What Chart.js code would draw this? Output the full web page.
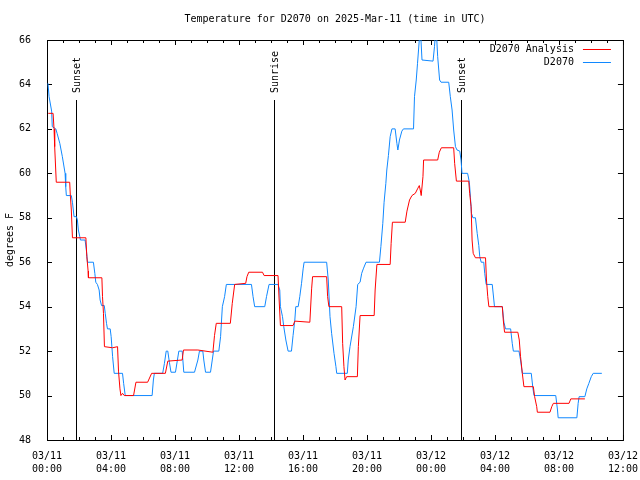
<!DOCTYPE html>
<html>
<head>
<meta charset="utf-8">
<script src="https://cdn.jsdelivr.net/npm/chart.js@4.4.0/dist/chart.umd.min.js"></script>
<style>
  body { margin: 0; background: #fff; }
  canvas { display: block; }
</style>
</head>
<body>
<canvas id="myChart" width="640" height="480"></canvas>
<script>
// hours since 03/11 00:00 UTC
var analysisHours = [0.08,0.38,0.44,0.48,0.58,1.42,1.46,1.52,1.59,2.43,
  2.49,2.57,2.59,3.43,3.47,3.53,3.59,4.10,4.41,4.47,
  4.56,4.62,4.72,4.83,5.41,5.56,6.29,6.54,7.40,7.55,
  8.45,8.53,9.43,10.37,10.47,10.58,11.46,11.58,11.73,12.42,
  12.50,12.61,13.47,13.57,14.44,14.51,14.59,15.38,15.49,16.43,
  16.54,16.60,17.48,17.54,17.62,18.42,18.48,18.56,18.63,18.73,
  19.40,19.46,19.57,20.45,20.51,20.62,21.45,21.51,21.59,22.39,
  22.50,22.66,22.81,23.02,23.16,23.27,23.33,23.39,23.50,23.54,
  24.42,24.52,24.65,25.42,25.48,25.59,26.36,26.42,26.51,26.57,
  26.64,26.78,27.41,27.47,27.55,27.62,28.46,28.52,28.60,29.43,
  29.52,29.60,29.71,29.81,30.40,30.48,30.61,30.65,31.44,31.55,
  31.65,32.63,32.74,33.62];
var analysisTemps = [62.7,62.7,62.0,61.2,59.6,59.6,59.0,58.35,57.1,57.1,
  56.25,55.6,55.3,55.3,54.45,53.7,52.2,52.15,52.2,51.1,
  50.3,50.0,50.1,50.0,50.0,50.6,50.6,51.0,51.0,51.55,
  51.6,52.05,52.05,51.95,52.7,53.25,53.25,54.15,55.0,55.05,
  55.35,55.55,55.55,55.4,55.4,54.3,53.15,53.15,53.35,53.3,
  54.8,55.35,55.35,54.45,54.0,54.0,52.35,51.3,50.7,50.85,
  50.85,52.2,53.6,53.6,54.75,55.9,55.9,56.85,57.8,57.8,
  58.3,58.8,59.0,59.1,59.3,59.45,59.25,59.0,59.85,60.6,
  60.6,60.95,61.15,61.15,60.45,59.65,59.65,59.1,58.5,57.0,
  56.4,56.2,56.2,55.2,54.45,54.0,54.0,53.4,52.85,52.85,
  52.5,51.75,51.0,50.4,50.4,49.95,49.5,49.25,49.25,49.5,
  49.65,49.65,49.85,49.85];

var obsHours = [0.06,0.13,0.29,0.33,0.55,0.63,0.80,0.96,1.13,1.17,
  1.21,1.52,1.59,1.69,1.84,1.90,1.96,2.05,2.09,2.38,
  2.46,2.53,2.90,2.99,3.05,3.15,3.26,3.32,3.41,3.58,
  3.64,3.72,3.78,3.95,4.01,4.10,4.20,4.72,4.79,4.89,
  6.57,6.65,6.71,7.23,7.34,7.45,7.55,7.65,7.75,8.03,
  8.24,8.45,8.55,9.22,9.43,9.53,9.74,9.80,9.91,10.22,
  10.33,10.41,10.74,10.85,10.96,11.10,11.21,12.78,12.88,12.98,
  13.61,13.72,13.88,14.44,14.55,14.59,14.72,14.80,14.93,15.07,
  15.28,15.38,15.49,15.55,15.70,15.80,15.91,16.01,16.07,17.48,
  17.58,17.69,17.79,17.94,18.06,18.11,18.77,18.83,18.94,19.15,
  19.32,19.42,19.57,19.67,19.77,19.94,20.78,20.87,20.99,21.07,
  21.18,21.24,21.34,21.45,21.56,21.76,21.87,21.93,22.03,22.18,
  22.28,22.91,22.97,23.08,23.16,23.29,23.36,23.44,24.13,24.22,
  24.27,24.35,24.42,24.54,24.63,25.11,25.21,25.32,25.42,25.53,
  25.63,25.80,25.88,25.94,26.29,26.40,26.47,26.53,26.62,26.78,
  26.89,26.99,27.05,27.14,27.30,27.36,27.45,27.83,27.93,27.97,
  28.46,28.56,28.66,28.98,29.08,29.15,29.50,29.60,29.71,30.27,
  30.36,30.44,31.80,31.91,31.95,33.12,33.20,33.26,33.62,33.74,
  33.87,34.02,34.14,34.68];
var obsTemps = [64.05,63.45,62.8,62.1,62.0,61.8,61.35,60.75,60.0,59.4,
  59.0,59.0,58.7,58.05,58.05,57.9,57.45,57.15,57.0,57.0,
  56.55,56.0,56.0,55.5,55.1,55.0,54.75,54.3,54.05,54.05,
  53.7,53.25,53.0,53.0,52.65,51.75,51.0,51.0,50.55,50.0,
  50.0,50.7,51.0,51.0,51.45,52.0,52.0,51.5,51.05,51.05,
  52.0,52.0,51.05,51.05,51.6,52.0,52.0,51.6,51.05,51.05,
  51.6,52.0,52.0,52.65,54.0,54.45,55.0,55.0,54.45,54.0,
  54.0,54.45,55.0,55.0,54.75,54.0,53.55,53.1,52.5,52.0,
  52.0,52.7,53.4,54.0,54.0,54.45,55.05,55.7,56.0,56.0,
  55.2,53.55,52.8,51.9,51.3,51.0,51.0,51.6,52.2,53.1,
  54.0,55.0,55.1,55.5,55.7,56.0,56.0,56.7,57.75,58.7,
  59.55,60.15,60.8,61.65,62.0,62.0,61.35,61.05,61.5,61.9,
  62.0,62.0,63.45,64.2,64.95,66.2,66.2,65.1,65.05,65.7,
  66.2,66.2,65.25,64.2,64.1,64.1,63.45,62.85,61.95,61.2,
  61.05,61.0,60.6,60.0,60.0,59.6,58.9,58.2,58.0,58.0,
  57.3,56.75,56.25,56.0,56.0,55.5,55.0,55.0,54.3,54.0,
  54.0,53.3,53.0,53.0,52.35,52.0,52.0,51.6,51.0,51.0,
  50.4,50.0,50.0,49.35,49.0,49.0,49.65,49.95,49.95,50.3,
  50.55,50.85,51.0,51.0];

var sunHours = [1.83, 14.18, 25.85];
var sunLabels = ['Sunset', 'Sunrise', 'Sunset'];

var tickDates = ['03/11','03/11','03/11','03/11','03/11','03/11','03/12','03/12','03/12','03/12'];
var tickTimes = ['00:00','04:00','08:00','12:00','16:00','20:00','00:00','04:00','08:00','12:00'];

var seriesNames = ['D2070 Analysis', 'D2070'];
var seriesColors = ['#ff0000', '#1088ff'];

var FONT = 'DejaVu Sans Mono';

function toPoints(xs, ys) {
  var pts = [];
  for (var i = 0; i < xs.length; i++) pts.push({x: xs[i], y: ys[i]});
  return pts;
}

// gnuplot-ish frame, inward ticks, sun lines and legend
var decorations = {
  id: 'decorations',
  beforeDatasetsDraw: function(chart) {
    var ctx = chart.ctx, a = chart.chartArea;
    var xs = chart.scales.x, ys = chart.scales.y;
    ctx.save();
    ctx.strokeStyle = '#000';
    ctx.lineWidth = 1;
    ctx.strokeRect(a.left + 0.5, a.top + 0.5, a.right - a.left, a.bottom - a.top);

    ctx.beginPath();
    for (var h = 0; h <= 36; h++) {
      var px = Math.round(xs.getPixelForValue(h)) + 0.5;
      var len = (h % 4 === 0) ? 5 : 3;
      ctx.moveTo(px, a.bottom); ctx.lineTo(px, a.bottom - len);
      ctx.moveTo(px, a.top); ctx.lineTo(px, a.top + len);
    }
    for (var v = 48; v <= 66; v += 2) {
      var py = Math.round(ys.getPixelForValue(v)) + 0.5;
      ctx.moveTo(a.left, py); ctx.lineTo(a.left + 5, py);
      ctx.moveTo(a.right, py); ctx.lineTo(a.right - 5, py);
    }
    ctx.stroke();

    ctx.font = '10px "' + FONT + '"';
    ctx.fillStyle = '#000';
    for (var i = 0; i < sunHours.length; i++) {
      var sx = Math.round(xs.getPixelForValue(sunHours[i])) + 0.5;
      ctx.beginPath();
      ctx.moveTo(sx, 100);
      ctx.lineTo(sx, a.bottom);
      ctx.stroke();
      ctx.save();
      ctx.translate(sx + 1, 93);
      ctx.rotate(-Math.PI / 2);
      ctx.textAlign = 'left';
      ctx.textBaseline = 'middle';
      ctx.fillText(sunLabels[i], 0, 0);
      ctx.restore();
    }
    ctx.restore();
  },
  afterDraw: function(chart) {
    var ctx = chart.ctx, a = chart.chartArea;
    ctx.save();
    ctx.font = '10px "' + FONT + '"';
    ctx.fillStyle = '#000';
    ctx.textAlign = 'right';
    ctx.textBaseline = 'middle';
    for (var i = 0; i < seriesNames.length; i++) {
      var y = a.top + 9.5 + i * 13;
      ctx.fillText(seriesNames[i], a.right - 49, y);
      ctx.strokeStyle = seriesColors[i];
      ctx.lineWidth = 1;
      ctx.beginPath();
      ctx.moveTo(a.right - 40, y);
      ctx.lineTo(a.right - 12, y);
      ctx.stroke();
    }
    ctx.restore();
  }
};

var ctx = document.getElementById('myChart').getContext('2d');
var chart = new Chart(ctx, {
  type: 'line',
  data: {
    datasets: [{
      label: seriesNames[0],
      data: toPoints(analysisHours, analysisTemps),
      borderColor: seriesColors[0],
      borderWidth: 1,
      pointRadius: 0,
      tension: 0,
      clip: 0
    }, {
      label: seriesNames[1],
      data: toPoints(obsHours, obsTemps),
      borderColor: seriesColors[1],
      borderWidth: 1,
      pointRadius: 0,
      tension: 0,
      clip: 0
    }]
  },
  options: {
    responsive: false,
    animation: false,
    layout: { padding: { left: 0, right: 15, top: 0, bottom: 0 } },
    plugins: {
      legend: { display: false },
      tooltip: { enabled: false },
      title: {
        display: true,
        text: 'Temperature for D2070 on 2025-Mar-11 (time in UTC)',
        color: '#000',
        fullSize: false,
        font: { family: FONT, size: 10, weight: 'normal', lineHeight: 1.2 },
        padding: { top: 13, bottom: 15 }
      }
    },
    scales: {
      x: {
        type: 'linear',
        min: 0,
        max: 36,
        grid: { display: false },
        border: { display: false },
        afterFit: function(s) { s.height = 40; },
        ticks: {
          stepSize: 4,
          autoSkip: false,
          maxRotation: 0,
          padding: 2,
          color: '#000',
          font: { family: FONT, size: 10, lineHeight: 1.3 },
          callback: function(v) {
            var i = Math.round(v / 4);
            return [tickDates[i], tickTimes[i]];
          }
        }
      },
      y: {
        min: 48,
        max: 66,
        grid: { display: false },
        border: { display: false },
        afterFit: function(s) { s.width = 47; },
        title: {
          display: true,
          text: 'degrees F',
          color: '#000',
          font: { family: FONT, size: 10 },
          padding: { top: 4, bottom: 0 }
        },
        ticks: {
          stepSize: 2,
          padding: 8,
          color: '#000',
          font: { family: FONT, size: 10 }
        }
      }
    }
  },
  plugins: [decorations]
});
</script>
</body>
</html>
